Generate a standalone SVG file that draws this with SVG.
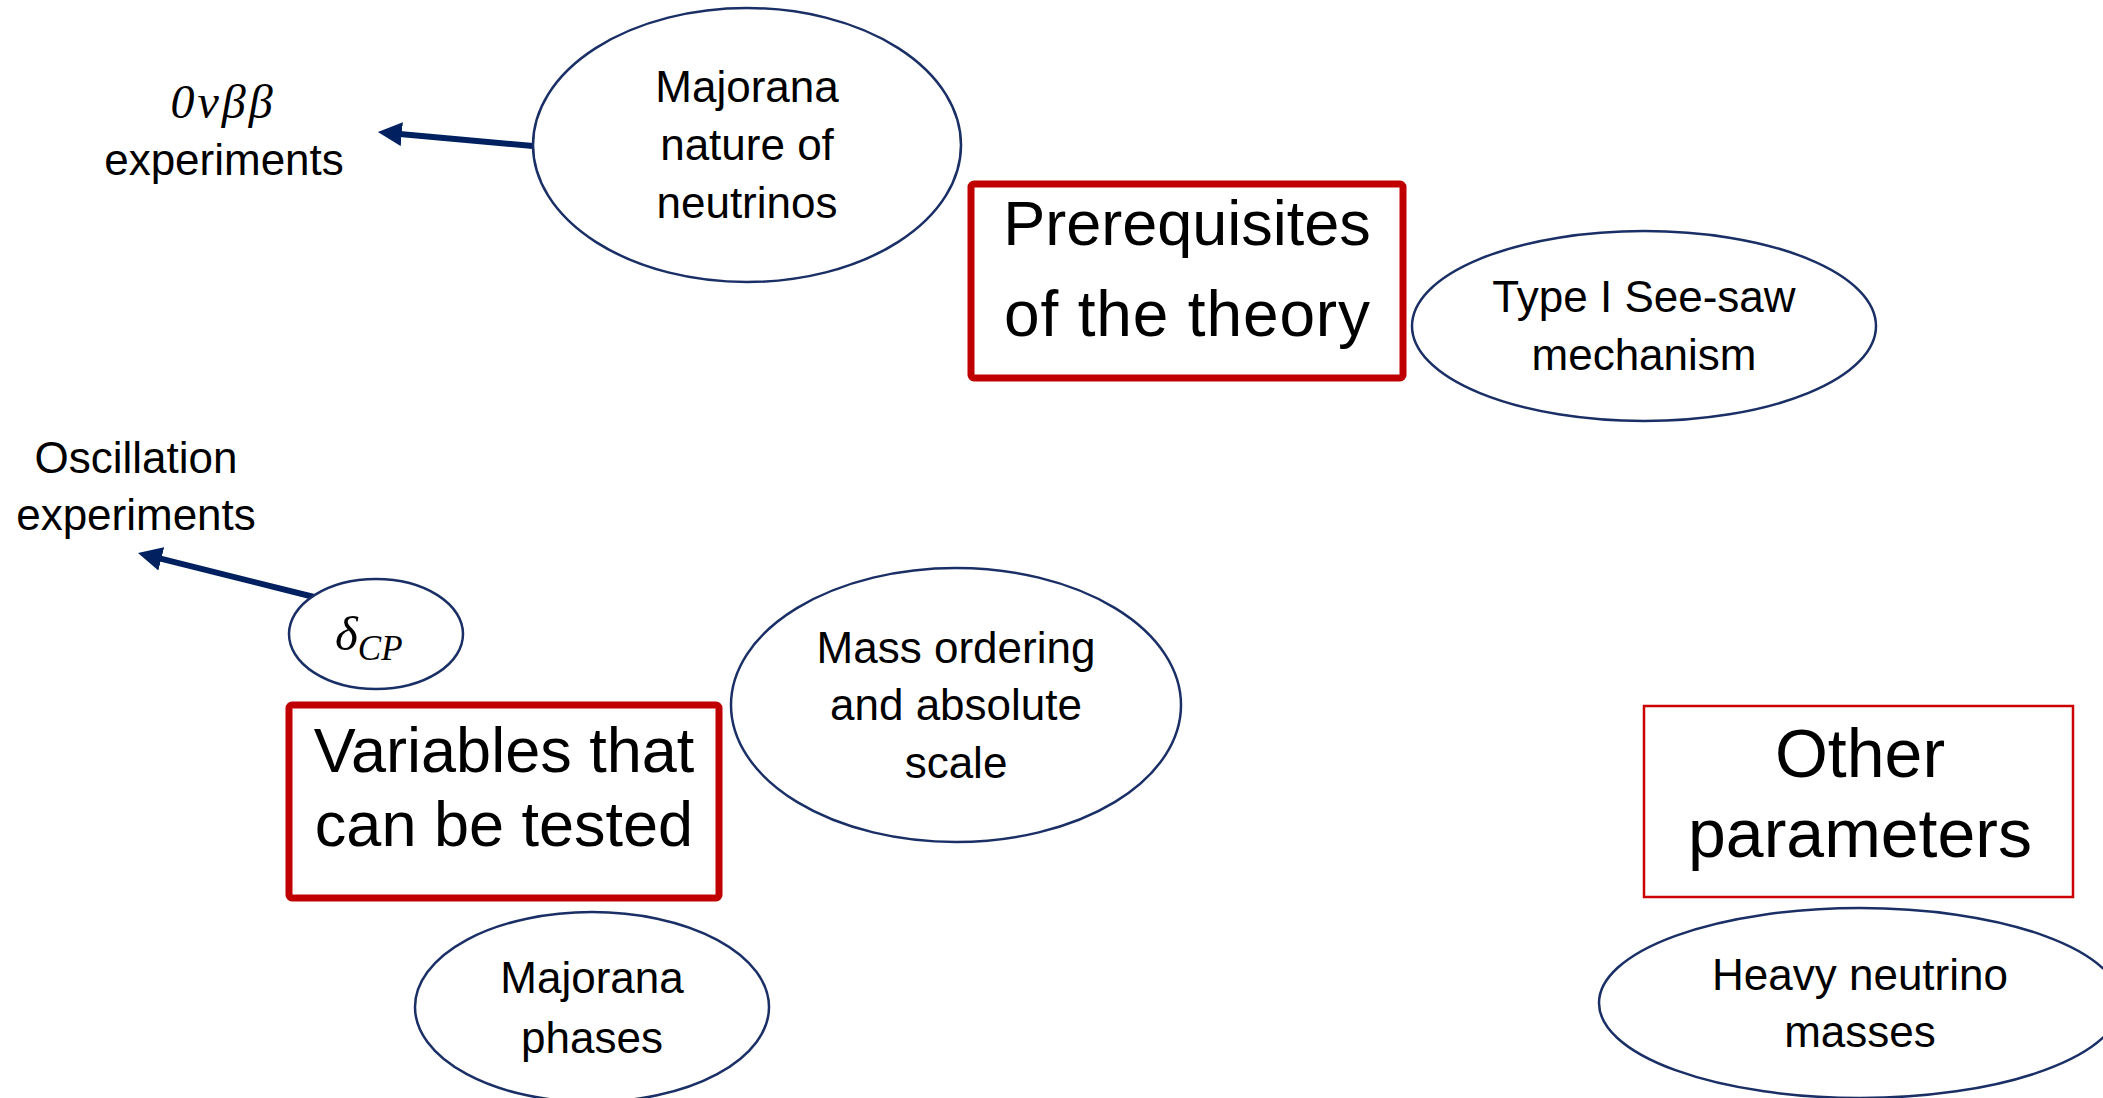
<svg xmlns="http://www.w3.org/2000/svg" width="2103" height="1098" viewBox="0 0 2103 1098">
<defs>
<marker id="ah" viewBox="0 0 10 10" refX="2" refY="5" markerWidth="4" markerHeight="4" orient="auto" markerUnits="strokeWidth">
<path d="M0,0 L10,5 L0,10 z" fill="#002060"/>
</marker>
<style>
.ell{fill:#fff;stroke:#1a2f66;stroke-width:2.5}
.box{fill:#fff;stroke:#c00000;stroke-width:7}
.box2{fill:#fff;stroke:#cc0000;stroke-width:2.5}
.t{font-family:"Liberation Sans",Arial,sans-serif;font-size:44px;fill:#000;text-anchor:middle}
.big{font-family:"Liberation Sans",Arial,sans-serif;fill:#000;text-anchor:middle}
.math{font-family:"Liberation Serif","DejaVu Serif",serif;font-style:italic;fill:#000}
.arr{stroke:#002060;stroke-width:6;fill:none;marker-end:url(#ah)}
</style>
</defs>
<rect width="2103" height="1098" fill="#fff"/>
<g id="connectors">
<line class="arr" x1="533" y1="146" x2="397" y2="133.7"/>
<line class="arr" x1="314" y1="597" x2="156.6" y2="557.7"/>
</g>
<g id="label-0vbb">
<text class="math" x="223" y="118" font-size="48" text-anchor="middle" letter-spacing="3">0νββ</text>
<text class="t" x="224" y="175">experiments</text>
</g>
<g id="node-majorana-nature">
<ellipse class="ell" cx="747" cy="145" rx="214" ry="137"/>
<text class="t" x="747" y="102">Majorana</text>
<text class="t" x="747" y="160">nature of</text>
<text class="t" x="747" y="218">neutrinos</text>
</g>
<g id="node-prerequisites">
<rect class="box" x="971" y="184" width="432" height="194" rx="3"/>
<text class="big" x="1187" y="245" font-size="63">Prerequisites</text>
<text class="big" x="1187" y="336" font-size="64" textLength="366" lengthAdjust="spacing">of the theory</text>
</g>
<g id="node-seesaw">
<ellipse class="ell" cx="1644" cy="326" rx="232" ry="95"/>
<text class="t" x="1644" y="312">Type I See-saw</text>
<text class="t" x="1644" y="370">mechanism</text>
</g>
<g id="label-oscillation">
<text class="t" x="136" y="473">Oscillation</text>
<text class="t" x="136" y="530">experiments</text>
</g>
<g id="node-deltacp">
<ellipse class="ell" cx="376" cy="634" rx="87" ry="55"/>
<text class="math" x="335" y="650" font-size="49">δ<tspan font-size="35" dy="10">CP</tspan></text>
</g>
<g id="node-variables">
<rect class="box" x="289" y="705" width="430" height="193" rx="3"/>
<text class="big" x="504" y="772" font-size="63">Variables that</text>
<text class="big" x="504" y="846" font-size="63">can be tested</text>
</g>
<g id="node-mass-ordering">
<ellipse class="ell" cx="956" cy="705" rx="225" ry="137"/>
<text class="t" x="956" y="663">Mass ordering</text>
<text class="t" x="956" y="720">and absolute</text>
<text class="t" x="956" y="778">scale</text>
</g>
<g id="node-other">
<rect class="box2" x="1644" y="706" width="429" height="191"/>
<text class="big" x="1860" y="777" font-size="68">Other</text>
<text class="big" x="1860" y="857" font-size="68">parameters</text>
</g>
<g id="node-heavy">
<ellipse class="ell" cx="1860" cy="1003" rx="261" ry="95"/>
<text class="t" x="1860" y="990">Heavy neutrino</text>
<text class="t" x="1860" y="1047">masses</text>
</g>
<g id="node-majorana-phases">
<ellipse class="ell" cx="592" cy="1007" rx="177" ry="95"/>
<text class="t" x="592" y="993">Majorana</text>
<text class="t" x="592" y="1053">phases</text>
</g>
</svg>
